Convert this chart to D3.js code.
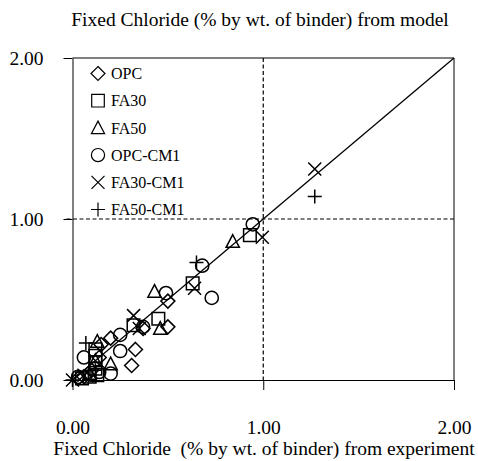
<!DOCTYPE html>
<html>
<head>
<meta charset="utf-8">
<script src="https://cdn.jsdelivr.net/npm/d3@7"></script>
<style>
  html, body { margin: 0; padding: 0; background: #fff; }
</style>
</head>
<body>
<svg id="chart" width="478" height="461"></svg>
<script>
// Fixed chloride: experiment (x) vs model (y), % by wt. of binder
const seriesNames = ["OPC", "FA30", "FA50", "OPC-CM1", "FA30-CM1", "FA50-CM1"];
const seriesSymbols = ["diamond", "square", "triangle", "circle", "cross", "plus"];

const opc = [
  [0.50, 0.49], [0.50, 0.33], [0.20, 0.26], [0.37, 0.32], [0.33, 0.19],
  [0.31, 0.09], [0.15, 0.22], [0.14, 0.14], [0.10, 0.06], [0.06, 0.02], [0.03, 0.01]
];
const fa30 = [
  [0.93, 0.90], [0.63, 0.60], [0.45, 0.38], [0.32, 0.34], [0.12, 0.19],
  [0.12, 0.15], [0.12, 0.11], [0.12, 0.07], [0.13, 0.03], [0.09, 0.02], [0.05, 0.01]
];
const fa50 = [
  [0.84, 0.86], [0.43, 0.55], [0.46, 0.32], [0.20, 0.10], [0.13, 0.24], [0.12, 0.12], [0.09, 0.04]
];
const opcCm1 = [
  [0.945, 0.967], [0.68, 0.71], [0.73, 0.51], [0.49, 0.54], [0.37, 0.33],
  [0.25, 0.28], [0.25, 0.18], [0.20, 0.04], [0.06, 0.14], [0.14, 0.05], [0.03, 0.02]
];
const fa30Cm1 = [
  [1.27, 1.31], [0.995, 0.887], [0.64, 0.57], [0.32, 0.40], [0.35, 0.32], [0.0, 0.0], [0.06, 0.03]
];
const fa50Cm1 = [
  [1.27, 1.14], [0.65, 0.73], [0.07, 0.23], [0.0, 0.0], [0.12, 0.06]
];
const seriesData = [opc, fa30, fa50, opcCm1, fa30Cm1, fa50Cm1];

const tickValues = [0, 1, 2];
const titleText = "Fixed Chloride (% by wt. of binder) from model";
const xLabelText = "Fixed Chloride  (% by wt. of binder) from experiment";

const FONT = "'Liberation Serif', 'Times New Roman', Times, serif";
const svg = d3.select("#chart");
const x = d3.scaleLinear().domain([0, 2]).range([72.5, 454]);
const y = d3.scaleLinear().domain([0, 2]).range([380, 58]);
const fmt = d3.format(".2f");
const fontSize = 19.5;

// marker shapes, centred on the origin
function symbolPath(kind) {
  const p = d3.path();
  if (kind === "diamond") {
    const r = 7;
    p.moveTo(0, -r); p.lineTo(r, 0); p.lineTo(0, r); p.lineTo(-r, 0); p.closePath();
  } else if (kind === "square") {
    const h = 6.3;
    p.rect(-h, -h, 2 * h, 2 * h);
  } else if (kind === "triangle") {
    p.moveTo(0, -6.8); p.lineTo(6.6, 5.8); p.lineTo(-6.6, 5.8); p.closePath();
  } else if (kind === "circle") {
    p.arc(0, 0, 6.6, 0, 2 * Math.PI);
  } else if (kind === "cross") {
    const h = 6.5;
    p.moveTo(-h, -h); p.lineTo(h, h); p.moveTo(h, -h); p.lineTo(-h, h);
  } else if (kind === "plus") {
    const h = 7;
    p.moveTo(-h, 0); p.lineTo(h, 0); p.moveTo(0, -h); p.lineTo(0, h);
  }
  return p.toString();
}

// frame: top and right border
svg.append("line").attr("x1", x(0)).attr("x2", x(2)).attr("y1", y(2)).attr("y2", y(2))
  .attr("stroke", "#000").attr("stroke-width", 1);
svg.append("line").attr("x1", x(2)).attr("x2", x(2)).attr("y1", y(2)).attr("y2", y(0))
  .attr("stroke", "#000").attr("stroke-width", 1);

// dashed reference lines at 1.00
svg.append("line").attr("x1", x(1)).attr("x2", x(1)).attr("y1", y(2)).attr("y2", y(0))
  .attr("stroke", "#000").attr("stroke-width", 1.2).attr("stroke-dasharray", "4,2.5");
svg.append("line").attr("x1", x(0) - 6).attr("x2", x(2)).attr("y1", y(1)).attr("y2", y(1))
  .attr("stroke", "#000").attr("stroke-width", 1.2).attr("stroke-dasharray", "4,2.5");

// line of equality
svg.append("line").attr("x1", x(0)).attr("y1", y(0)).attr("x2", x(2)).attr("y2", y(2))
  .attr("stroke", "#000").attr("stroke-width", 1.3);

// axes
const xAxis = d3.axisBottom(x).tickValues(tickValues).tickFormat(fmt)
  .tickSize(10).tickSizeOuter(0).tickPadding(30);
const gx = svg.append("g").attr("transform", `translate(0,${y(0)})`).call(xAxis);
const yAxis = d3.axisLeft(y).tickValues(tickValues).tickFormat(fmt)
  .tickSize(9).tickSizeOuter(0).tickPadding(20);
const gy = svg.append("g").attr("transform", `translate(${x(0)},0)`).call(yAxis);
[gx, gy].forEach(g => {
  g.attr("font-family", null).attr("font-size", null);
  g.selectAll("path.domain").attr("stroke", "#000").attr("stroke-width", 1);
  g.selectAll(".tick line").attr("stroke", "#000").attr("stroke-width", 1);
  g.selectAll(".tick text").style("font-family", FONT)
    .style("font-size", fontSize + "px").attr("fill", "#000");
});

// data markers
seriesData.forEach((pts, i) => {
  svg.append("g").selectAll("path").data(pts).join("path")
    .attr("d", symbolPath(seriesSymbols[i]))
    .attr("transform", d => `translate(${x(d[0])},${y(d[1])})`)
    .attr("fill", "none").attr("stroke", "#000").attr("stroke-width", 1.5);
});

// legend
const legend = svg.append("g");
seriesNames.forEach((name, i) => {
  const ly = 73.5 + i * 27.2;
  legend.append("path").attr("d", symbolPath(seriesSymbols[i]))
    .attr("transform", `translate(98,${ly})`)
    .attr("fill", "none").attr("stroke", "#000").attr("stroke-width", 1.2);
  legend.append("text").attr("x", 111).attr("y", ly).attr("dy", "0.35em")
    .style("font-family", FONT).style("font-size", "16px").attr("fill", "#000").text(name);
});

// titles
svg.append("text").attr("x", 260).attr("y", 26).attr("text-anchor", "middle")
  .style("font-family", FONT).style("font-size", fontSize + "px").attr("fill", "#000")
  .text(titleText);
svg.append("text").attr("x", 264).attr("y", 455).attr("text-anchor", "middle")
  .style("font-family", FONT).style("font-size", fontSize + "px").attr("fill", "#000")
  .style("white-space", "pre").text(xLabelText);
</script>
</body>
</html>
